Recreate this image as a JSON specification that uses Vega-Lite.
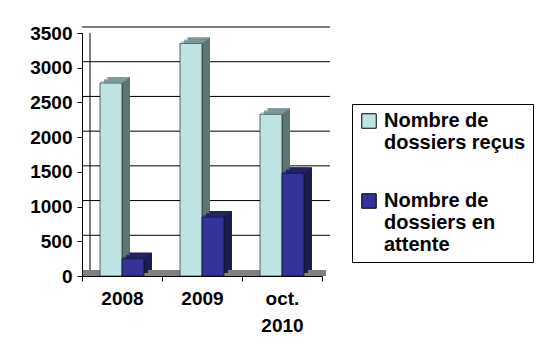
{
  "$schema": "https://vega.github.io/schema/vega-lite/v6.json",
  "width": 240,
  "height": 243,
  "autosize": {"type": "none"},
  "padding": {"left": 82, "top": 33, "right": 216, "bottom": 85},
  "background": "white",
  "config": {
    "view": {"stroke": null},
    "font": "Liberation Sans",
    "axis": {"labelFont": "Liberation Sans", "labelFontWeight": "bold", "labelFontSize": 19, "labelColor": "black", "domainColor": "black", "tickColor": "black", "grid": false, "title": null}
  },
  "data": {"values": [
    {"annee": "2008", "serie": "Nombre de dossiers reçus", "n": 2780},
    {"annee": "2009", "serie": "Nombre de dossiers reçus", "n": 3350},
    {"annee": "oct. 2010", "serie": "Nombre de dossiers reçus", "n": 2330},
    {"annee": "2008", "serie": "Nombre de dossiers en attente", "n": 250},
    {"annee": "2009", "serie": "Nombre de dossiers en attente", "n": 850},
    {"annee": "oct. 2010", "serie": "Nombre de dossiers en attente", "n": 1480}
  ]},
  "encoding": {
    "x": {"field": "annee", "type": "nominal", "sort": null,
      "scale": {"domain": ["2008", "2009", "oct. 2010"], "paddingInner": 0, "paddingOuter": 0},
      "axis": {"labelAngle": 0, "tickBand": "extent", "tickSize": 5, "labelPadding": 8, "labelBaseline": "top", "labelLineHeight": 27,
        "labelExpr": "datum.label == 'oct. 2010' ? ['oct.', '2010'] : datum.label", "domainWidth": 1, "zindex": 1}},
    "y": {"field": "n", "type": "quantitative",
      "scale": {"domain": [0, 3500], "nice": false},
      "axis": {"values": [0, 500, 1000, 1500, 2000, 2500, 3000, 3500], "format": "d", "tickSize": 5, "labelPadding": 5, "zindex": 1}}
  },
  "layer": [
    {
      "data": {"values": [{"v": 500}, {"v": 1000}, {"v": 1500}, {"v": 2000}, {"v": 2500}, {"v": 3000}, {"v": 3500}]},
      "mark": {"type": "rule", "color": "black", "strokeWidth": 1, "xOffset": 8, "yOffset": -6},
      "encoding": {"x": null, "y": {"field": "v", "type": "quantitative"}}
    },
    {
      "data": {"values": [{"a": 0, "b": 3500}]},
      "mark": {"type": "rule", "color": "black", "strokeWidth": 1, "xOffset": 8, "yOffset": -6},
      "encoding": {"x": {"datum": "2008", "type": "nominal", "bandPosition": 0}, "y": {"field": "a", "type": "quantitative"}, "y2": {"field": "b"}}
    },
    {
      "data": {"values": [{"v": 0}]},
      "mark": {"type": "rule", "color": "#808080", "strokeWidth": 6, "xOffset": 4, "yOffset": -3},
      "encoding": {"x": null, "y": {"field": "v", "type": "quantitative"}}
    },
    {
      "transform": [{"filter": "datum.serie === 'Nombre de dossiers reçus'"}],
      "mark": {"type": "bar", "width": 22, "xOffset": -7, "yOffset": -3, "color": "#5E7575"},
      "encoding": {}
    },
    {
      "transform": [{"filter": "datum.serie === 'Nombre de dossiers reçus'"}],
      "mark": {"type": "bar", "width": 22, "xOffset": -3, "yOffset": -6, "color": "#5E7575"},
      "encoding": {}
    },
    {
      "transform": [{"filter": "datum.serie === 'Nombre de dossiers reçus'"}],
      "mark": {"type": "bar", "width": 22, "xOffset": -11, "stroke": "black", "strokeWidth": 0.6},
      "encoding": {"color": {"field": "serie", "type": "nominal",
        "scale": {"domain": ["Nombre de dossiers reçus", "Nombre de dossiers en attente"], "range": ["#BDE3E3", "#333399"]},
        "legend": {"orient": "none", "legendX": 270, "legendY": 71, "title": null, "symbolType": "square", "symbolSize": 210,
          "symbolStrokeColor": "black", "symbolStrokeWidth": 1, "labelFont": "Liberation Sans", "labelFontSize": 20, "labelFontWeight": "bold",
          "labelColor": "black", "labelLimit": 400, "labelOffset": 5, "labelLineHeight": 23, "rowPadding": 38, "padding": 7,
          "strokeColor": "black", "fillColor": "white",
          "labelExpr": "datum.label == 'Nombre de dossiers reçus' ? ['Nombre de', 'dossiers reçus'] : ['Nombre de', 'dossiers en', 'attente']"}}}
    },
    {
      "transform": [{"filter": "datum.serie === 'Nombre de dossiers reçus'"}],
      "mark": {"type": "tick", "size": 22, "thickness": 2, "xOffset": -9.7, "yOffset": -1, "color": "#8EA8AA"},
      "encoding": {}
    },
    {
      "transform": [{"filter": "datum.serie === 'Nombre de dossiers reçus'"}],
      "mark": {"type": "tick", "size": 22, "thickness": 2, "xOffset": -7, "yOffset": -3, "color": "#8EA8AA"},
      "encoding": {}
    },
    {
      "transform": [{"filter": "datum.serie === 'Nombre de dossiers reçus'"}],
      "mark": {"type": "tick", "size": 22, "thickness": 2, "xOffset": -4.3, "yOffset": -5, "color": "#8EA8AA"},
      "encoding": {}
    },
    {
      "transform": [{"filter": "datum.serie === 'Nombre de dossiers en attente'"}],
      "mark": {"type": "bar", "width": 22, "xOffset": 15, "yOffset": -3, "color": "#1C1C4E"},
      "encoding": {}
    },
    {
      "transform": [{"filter": "datum.serie === 'Nombre de dossiers en attente'"}],
      "mark": {"type": "bar", "width": 22, "xOffset": 19, "yOffset": -6, "color": "#1C1C4E"},
      "encoding": {}
    },
    {
      "transform": [{"filter": "datum.serie === 'Nombre de dossiers en attente'"}],
      "mark": {"type": "bar", "width": 22, "xOffset": 11, "stroke": "black", "strokeWidth": 0.6},
      "encoding": {"color": {"field": "serie", "type": "nominal"}}
    },
    {
      "transform": [{"filter": "datum.serie === 'Nombre de dossiers en attente'"}],
      "mark": {"type": "tick", "size": 22, "thickness": 2, "xOffset": 12.3, "yOffset": -1, "color": "#26266F"},
      "encoding": {}
    },
    {
      "transform": [{"filter": "datum.serie === 'Nombre de dossiers en attente'"}],
      "mark": {"type": "tick", "size": 22, "thickness": 2, "xOffset": 15, "yOffset": -3, "color": "#26266F"},
      "encoding": {}
    },
    {
      "transform": [{"filter": "datum.serie === 'Nombre de dossiers en attente'"}],
      "mark": {"type": "tick", "size": 22, "thickness": 2, "xOffset": 17.7, "yOffset": -5, "color": "#26266F"},
      "encoding": {}
    }
  ]
}
